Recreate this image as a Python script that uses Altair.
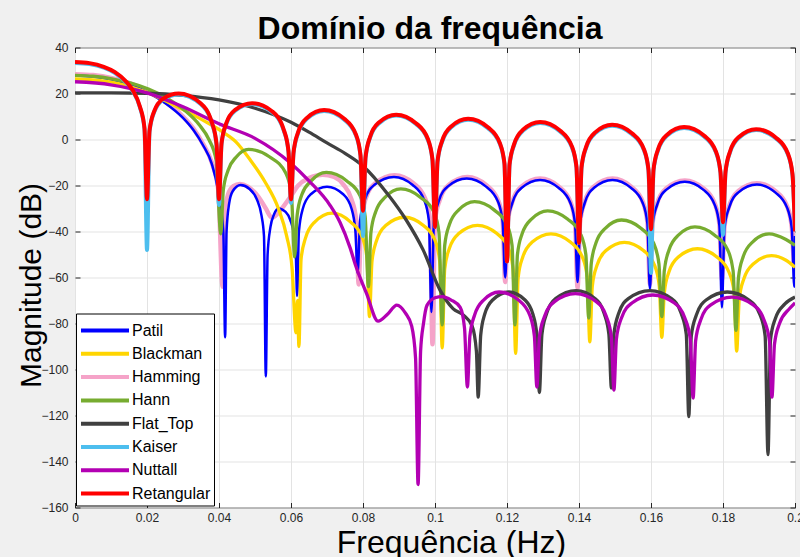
import altair as alt
import pandas as pd

FONT = "Liberation Sans"

SERIES = ["Patil", "Blackman", "Hamming", "Hann", "Flat_Top", "Kaiser", "Nuttall", "Retangular"]
COLORS = ["#0000ff", "#ffd500", "#f5a3c8", "#77ac30", "#404040", "#4dbeee", "#b300b3", "#ff0000"]
DRAW_ORDER = ["Hamming", "Patil", "Blackman", "Hann", "Flat_Top", "Kaiser", "Nuttall", "Retangular"]
WIDTHS = {"Hamming": 4.5, "Patil": 2.5, "Blackman": 3.3, "Hann": 3.3, "Flat_Top": 3.3,
          "Kaiser": 4, "Nuttall": 3.3, "Retangular": 4}

X_TICKS = [0, 0.02, 0.04, 0.06, 0.08, 0.1, 0.12, 0.14, 0.16, 0.18, 0.2]
Y_TICKS = [-160, -140, -120, -100, -80, -60, -40, -20, 0, 20, 40]

RET_F = [0, 0.004, 0.008, 0.011, 0.014, 0.016, 0.018, 0.0193, 0.02,
         0.0207, 0.022, 0.0245, 0.0288, 0.0348, 0.038, 0.0393, 0.04,
         0.0407, 0.042, 0.0445, 0.0492, 0.0548, 0.058, 0.0593, 0.06,
         0.0607, 0.062, 0.0645, 0.0692, 0.0748, 0.078, 0.0793, 0.08,
         0.0807, 0.082, 0.0845, 0.0892, 0.0948, 0.098, 0.0993, 0.1,
         0.1007, 0.102, 0.1045, 0.1092, 0.1148, 0.118, 0.1193, 0.12,
         0.1207, 0.122, 0.1245, 0.1292, 0.1348, 0.138, 0.1393, 0.14,
         0.1407, 0.142, 0.1445, 0.1492, 0.1548, 0.158, 0.1593, 0.16,
         0.1607, 0.162, 0.1645, 0.1692, 0.1748, 0.178, 0.1793, 0.18,
         0.1807, 0.182, 0.1845, 0.1892, 0.1948, 0.198, 0.1993, 0.2]
RET_DB = [33.7, 33.2, 31.6, 29.4, 25.5, 21.5, 14.5, 5.0, -26,
          3.8, 12.3, 17.8, 20.0, 15.9, 7.5, -1.7, -26,
          -1.7, 7.0, 12.9, 15.8, 12.2, 4.2, -5.0, -26,
          -5.7, 3.3, 9.5, 12.8, 9.0, 2.3, -6.7, -31,
          -7.7, 1.3, 7.5, 10.8, 7.0, 0.3, -8.7, -38,
          -9.5, -0.5, 5.7, 9.0, 5.2, -1.5, -10.5, -53,
          -10.9, -1.9, 4.3, 7.6, 3.8, -2.9, -11.9, -45,
          -12.1, -3.1, 3.1, 6.4, 2.6, -4.1, -13.1, -39,
          -13.1, -4.1, 2.1, 5.4, 1.6, -5.1, -14.1, -36,
          -14.0, -5.0, 1.2, 4.5, 0.7, -6.0, -15.0, -40]

KAI_F = RET_F
KAI_DB = [33.3, 32.8, 31.2, 29.0, 25.1, 21.1, 14.1, 4.6, -48,
          3.4, 11.9, 17.4, 19.6, 15.5, 7.1, -2.1, -28.5,
          -2.1, 6.6, 12.5, 15.4, 11.8, 3.8, -5.4, -27.6,
          -6.1, 2.9, 9.1, 12.4, 8.6, 1.9, -7.1, -42,
          -8.1, 0.9, 7.1, 10.4, 6.6, -0.1, -9.1, -38,
          -9.9, -0.9, 5.3, 8.6, 4.8, -1.9, -10.9, -53,
          -11.3, -2.3, 3.9, 7.2, 3.4, -3.3, -12.3, -45,
          -12.5, -3.5, 2.7, 6.0, 2.2, -4.5, -13.5, -58,
          -13.5, -4.5, 1.7, 5.0, 1.2, -5.5, -14.5, -41.5,
          -14.4, -5.4, 0.8, 4.1, 0.3, -6.4, -15.4, -40]

PATIL_F = [0, 0.005, 0.01, 0.015, 0.02, 0.025, 0.03, 0.033, 0.0356, 0.038, 0.0398, 0.0412, 0.0417,
           0.0421, 0.0428, 0.0438, 0.046, 0.0485, 0.0505, 0.0518, 0.0525, 0.053,
           0.0535, 0.0543, 0.0553, 0.0565, 0.0585, 0.0598, 0.0608, 0.0613, 0.0617,
           0.0622, 0.0633, 0.0655, 0.07, 0.0745, 0.0768, 0.0779, 0.0785,
           0.0792, 0.0805, 0.0831, 0.0886, 0.0938, 0.097, 0.0983, 0.099,
           0.0997, 0.101, 0.1035, 0.1088, 0.1142, 0.1175, 0.1188, 0.1195,
           0.1202, 0.1215, 0.124, 0.1292, 0.1344, 0.1376, 0.1389, 0.1396,
           0.1403, 0.1416, 0.1441, 0.1493, 0.1545, 0.1577, 0.159, 0.1597,
           0.1604, 0.1617, 0.1642, 0.1694, 0.1746, 0.1777, 0.179, 0.1797,
           0.1804, 0.1817, 0.1842, 0.1894, 0.1946, 0.1978, 0.1991, 0.1998, 0.2]
PATIL_DB = [27.8, 27.4, 26.2, 24.0, 20.6, 15.9, 9.4, 3.9, -2.6, -10.6, -22.6, -40, -86,
            -40, -28, -22.5, -19.8, -21.5, -26, -33, -42, -103,
            -50, -38, -32.5, -30, -31.5, -35, -41, -48, -68,
            -40, -30, -23.8, -20.5, -23.8, -30, -40, -58,
            -35.3, -26.3, -19.8, -16.3, -19.8, -26.3, -35.3, -75,
            -36, -27, -20.5, -17, -20.5, -27, -36, -60,
            -36.6, -27.6, -21.1, -17.6, -21.1, -27.6, -36.6, -62,
            -36.6, -27.6, -21.1, -17.6, -21.1, -27.6, -36.6, -65,
            -37.4, -28.4, -21.9, -18.4, -21.9, -28.4, -37.4, -73,
            -38.6, -29.6, -23.1, -19.6, -23.1, -29.6, -38.6, -64, -42]

HAM_F = [0, 0.005, 0.01, 0.015, 0.02, 0.025, 0.03, 0.033, 0.0356, 0.038, 0.0398, 0.041,
         0.0416, 0.0425, 0.044, 0.0458, 0.048, 0.051, 0.053, 0.0547, 0.0572, 0.0598, 0.062, 0.065,
         0.0688, 0.072, 0.0745, 0.0768, 0.0781, 0.0788,
         0.0795, 0.0808, 0.0834, 0.0888, 0.094, 0.0972, 0.0986, 0.0993,
         0.1, 0.1013, 0.1038, 0.109, 0.1142, 0.1175, 0.1188, 0.1195,
         0.1202, 0.1215, 0.124, 0.1292, 0.1344, 0.1376, 0.1389, 0.1396,
         0.1403, 0.1416, 0.1441, 0.1493, 0.1545, 0.1577, 0.159, 0.1597,
         0.1604, 0.1617, 0.1642, 0.1694, 0.1746, 0.1777, 0.179, 0.1797,
         0.1804, 0.1817, 0.1842, 0.1894, 0.1946, 0.1978, 0.1991, 0.1998, 0.2]
HAM_DB = [28.4, 28.0, 26.8, 24.6, 21.2, 16.5, 10.0, 4.5, -2.0, -10.0, -22.0, -64,
          -32, -24, -20.3, -19.3, -20.5, -25, -30, -34, -30.5, -25, -20, -16.8,
          -15.3, -16.3, -19.5, -26, -35, -63,
          -34.5, -25.5, -19, -15.5, -19, -25.5, -34.5, -89,
          -35.3, -26.3, -19.8, -16.3, -19.8, -26.3, -35.3, -62,
          -36, -27, -20.5, -17, -20.5, -27, -36, -64.6,
          -36, -27, -20.5, -17, -20.5, -27, -36, -63,
          -36.8, -27.8, -21.3, -17.8, -21.3, -27.8, -36.8, -61,
          -38, -29, -22.5, -19, -22.5, -29, -38, -55, -40]

HANN_F = [0, 0.005, 0.0102, 0.0153, 0.0204, 0.0255, 0.0306, 0.0345, 0.0372, 0.0392, 0.0405,
          0.0412, 0.0425, 0.0448, 0.0482, 0.054, 0.0585, 0.0601, 0.061,
          0.0617, 0.063, 0.0656, 0.0698, 0.0755, 0.0792, 0.0806, 0.0815,
          0.0822, 0.0835, 0.0861, 0.0905, 0.096, 0.0997, 0.1011, 0.102,
          0.1027, 0.104, 0.1066, 0.111, 0.1164, 0.12, 0.1214, 0.1222,
          0.1229, 0.1242, 0.1268, 0.1313, 0.1368, 0.1404, 0.1419, 0.1427,
          0.1434, 0.1447, 0.1473, 0.1518, 0.1572, 0.1607, 0.1622, 0.163,
          0.1637, 0.165, 0.1676, 0.1722, 0.1777, 0.1813, 0.1828, 0.1836,
          0.1843, 0.1856, 0.1882, 0.1928, 0.1975, 0.2]
HANN_DB = [27.9, 27.5, 26.4, 24.6, 21.9, 18.0, 12.5, 6.4, 0.0, -9.0, -41,
           -22, -13.5, -7.6, -4.3, -7.5, -14.5, -23.5, -51,
           -33, -24, -18, -14.3, -18, -24.5, -33.5, -64,
           -40.5, -31.5, -25.2, -21.5, -25.2, -31.5, -40.5, -80.6,
           -46, -37, -30.6, -27, -30.6, -37, -46, -80.6,
           -50, -41, -34.6, -31, -34.6, -41, -50, -77.6,
           -54, -45, -38.6, -35, -38.6, -45, -54, -77,
           -57, -48, -41.6, -38, -41.6, -48, -57, -83,
           -60, -51, -44.6, -41, -43.5, -46]

BLK_F = [0, 0.01, 0.02, 0.03, 0.036, 0.0408, 0.0447, 0.0486, 0.053, 0.0565, 0.0588, 0.0603,
         0.0614, 0.0618, 0.0622,
         0.0628, 0.064, 0.0665, 0.0714, 0.0765, 0.0798, 0.0811, 0.0818,
         0.0825, 0.0838, 0.0863, 0.0915, 0.0968, 0.1, 0.1013, 0.102,
         0.1027, 0.104, 0.1066, 0.1118, 0.1172, 0.1204, 0.1217, 0.1224,
         0.1231, 0.1244, 0.127, 0.1322, 0.1376, 0.1409, 0.1423, 0.143,
         0.1437, 0.145, 0.1475, 0.1526, 0.1579, 0.161, 0.1623, 0.163,
         0.1637, 0.165, 0.1676, 0.1729, 0.1783, 0.1816, 0.1831, 0.1838,
         0.1845, 0.1858, 0.1884, 0.1935, 0.1975, 0.2]
BLK_DB = [26.4, 25.0, 20.5, 13.0, 8.0, 3.5, -1.0, -8.7, -19.0, -30.0, -42.0, -56.0,
          -84.0, -70.0, -90.0,
          -52, -43, -36, -32, -35.8, -42.5, -51.5, -77,
          -52.8, -43.8, -37.4, -33.8, -37.4, -43.8, -52.8, -90.6,
          -56.3, -47.3, -40.9, -37.3, -40.9, -47.3, -56.3, -93,
          -60, -51, -44.6, -41, -44.6, -51, -60, -88,
          -63.7, -54.7, -48.3, -44.7, -48.3, -54.7, -63.7, -86,
          -66.5, -57.5, -51.1, -47.5, -51.1, -57.5, -66.5, -92,
          -69.5, -60.5, -54.1, -50.5, -52.5, -55.5]

FLAT_F = [0, 0.01, 0.02, 0.03, 0.04, 0.05, 0.06, 0.065, 0.07, 0.075, 0.08, 0.087, 0.092, 0.0967,
          0.1014, 0.105, 0.108, 0.1103, 0.1115, 0.112,
          0.1127, 0.1138, 0.116, 0.1205, 0.125, 0.1272, 0.1283, 0.129,
          0.1297, 0.131, 0.1335, 0.1392, 0.1445, 0.147, 0.1483, 0.149,
          0.1497, 0.151, 0.1537, 0.1597, 0.1657, 0.1684, 0.1698, 0.1705,
          0.1712, 0.1726, 0.1753, 0.1812, 0.1872, 0.1903, 0.1917, 0.1925,
          0.1932, 0.1945, 0.1972, 0.2]
FLAT_DB = [20.3, 20.3, 20.1, 19.2, 17.2, 13.6, 7.5, 3.2, -1.5, -6.0, -11.5, -24.0, -35.0, -48.0,
           -65.5, -73.5, -76.5, -81.0, -92.0, -112,
           -85, -76, -69.8, -66.3, -69.8, -76, -85, -110,
           -84.7, -75.7, -69.2, -65.7, -69.2, -75.7, -84.7, -108,
           -84.7, -75.7, -69.2, -65.7, -69.2, -75.7, -84.7, -120.5,
           -85.3, -76.3, -69.8, -66.3, -69.8, -76.3, -85.3, -137,
           -87, -78, -71.5, -68.5]

NUT_F = [0, 0.01, 0.02, 0.03, 0.04, 0.05, 0.0597, 0.065, 0.0708, 0.0736, 0.0764, 0.078, 0.081,
         0.0842, 0.0868, 0.0894, 0.0918, 0.0935, 0.0946, 0.0953,
         0.096, 0.0968, 0.0978, 0.1, 0.102, 0.1045, 0.107, 0.1082, 0.109,
         0.1097, 0.111, 0.1135, 0.1178, 0.1232, 0.1263, 0.1276, 0.1283,
         0.129, 0.1304, 0.1332, 0.139, 0.1448, 0.1476, 0.149, 0.1497,
         0.1504, 0.1518, 0.1547, 0.1605, 0.1665, 0.1694, 0.1709, 0.1717,
         0.1724, 0.1738, 0.1765, 0.1825, 0.1885, 0.1914, 0.1929, 0.1936,
         0.1943, 0.1957, 0.1985, 0.2]
NUT_DB = [25.1, 23.8, 20.3, 14.2, 6.8, 0.5, -10.0, -18.0, -28.5, -36.0, -47.0, -55.0, -67.0,
          -79.0, -76.0, -72.0, -75.5, -81.0, -95.0, -150,
          -92, -80, -72, -68.8, -68.3, -69.8, -73, -82, -107.6,
          -85.3, -76.3, -69.8, -66.3, -69.8, -76.3, -85.3, -107.6,
          -86, -77, -70.5, -67, -70.5, -77, -86, -109,
          -86.6, -77.6, -71.1, -67.6, -71.1, -77.6, -86.6, -112.4,
          -87.5, -78.5, -72, -68.5, -72, -78.5, -87.5, -112,
          -89, -80, -73.5, -71]

DATA = {
    "Patil": (PATIL_F, PATIL_DB),
    "Blackman": (BLK_F, BLK_DB),
    "Hamming": (HAM_F, HAM_DB),
    "Hann": (HANN_F, HANN_DB),
    "Flat_Top": (FLAT_F, FLAT_DB),
    "Kaiser": (KAI_F, KAI_DB),
    "Nuttall": (NUT_F, NUT_DB),
    "Retangular": (RET_F, RET_DB),
}

rows = []
for name, (fs, dbs) in DATA.items():
    for i, (f, d) in enumerate(zip(fs, dbs)):
        rows.append({"serie": name, "f": f, "db": d, "i": i})
df = pd.DataFrame(rows)

x_scale = alt.Scale(domain=[0, 0.2], nice=False, zero=False)
y_scale = alt.Scale(domain=[-160, 40], nice=False, zero=False)

color_enc = alt.Color(
    "serie:N",
    scale=alt.Scale(domain=SERIES, range=COLORS),
    legend=alt.Legend(
        title=None, orient="none", legendX=1, legendY=266, direction="vertical",
        symbolType="M-2,0H2", symbolSize=576, symbolStrokeWidth=4, symbolOffset=12,
        labelFont=FONT, labelFontSize=16, labelColor="black", labelOffset=13,
        padding=3, rowPadding=1.3, strokeColor="black", fillColor="white",
        cornerRadius=0,
    ),
)

ax_common = dict(labelFont=FONT, labelFontSize=12, labelColor="#262626",
                 tickColor="#262626", tickWidth=1, tickSize=5, offset=-5, domain=False)

x_bottom = alt.Axis(orient="bottom", values=X_TICKS, format="~g", labelFlush=False,
                    labelOverlap=False, labelPadding=5, grid=True, gridColor="#e3e3e3",
                    title="Frequência (Hz)", titleFont=FONT, titleFontSize=32,
                    titleFontWeight="normal", titleColor="black", titleX=376, titleY=50,
                    titleBaseline="alphabetic", titleAlign="center", **ax_common)
y_left = alt.Axis(orient="left", values=Y_TICKS, labelOverlap=False, labelPadding=7,
                  grid=True, gridColor="#e3e3e3",
                  title="Magnitude (dB)", titleFont=FONT, titleFontSize=30,
                  titleFontWeight="normal", titleColor="black", titleX=-40, titleY=237.5,
                  titleAngle=270, titleBaseline="alphabetic", titleAlign="center", **ax_common)
x_top = alt.Axis(orient="top", values=X_TICKS, labels=False, grid=False, title="", **ax_common)
y_right = alt.Axis(orient="right", values=Y_TICKS, labels=False, grid=False, title="", **ax_common)

layers = []
for k, s in enumerate(DRAW_ORDER):
    if k == 0:
        xa, ya = x_bottom, y_left
    elif k == 1:
        xa, ya = x_top, y_right
    else:
        xa, ya = None, None
    layers.append(
        alt.Chart()
        .transform_filter(alt.datum.serie == s)
        .mark_line(interpolate="monotone", strokeWidth=WIDTHS[s], clip=True)
        .encode(
            x=alt.X("f:Q", scale=x_scale, axis=xa),
            y=alt.Y("db:Q", scale=y_scale, axis=ya),
            color=color_enc,
            order=alt.Order("i:Q"),
        )
    )

chart = (
    alt.layer(*layers, data=df)
    .properties(
        width=720, height=460,
        autosize=alt.AutoSizeParams(type="none"),
        padding={"left": 75, "top": 47.5, "right": 5, "bottom": 49.5},
        background="#f0f0f0",
        title=alt.TitleParams("Domínio da frequência", font=FONT, fontSize=32,
                              fontWeight="bold", color="black", anchor="middle",
                              frame="group", offset=-29.5, baseline="alphabetic", dx=-5),
    )
    .configure_view(fill="white", stroke="#262626", strokeWidth=1)
)

chart.save("out.html", embed_options={"renderer": "svg", "actions": False})
